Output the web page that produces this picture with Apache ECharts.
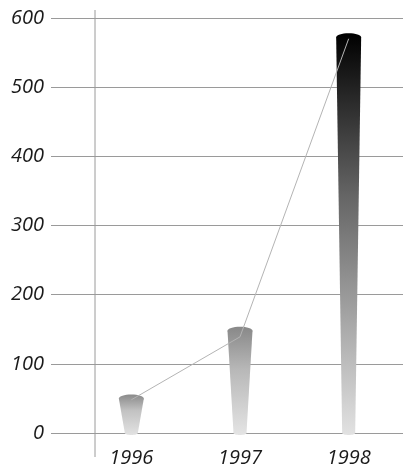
<!DOCTYPE html>
<html>
<head>
<meta charset="utf-8">
<script src="https://cdn.jsdelivr.net/npm/echarts@6/dist/echarts.min.js"></script>
<style>
  html, body { margin: 0; padding: 0; background: #fff; }
  #chart { width: 403px; height: 468px; }
</style>
</head>
<body>
<div id="chart"></div>
<script>
// Yearly totals: cone bars plus a thin trend line
const years = ['1996', '1997', '1998'];
const barValues = [50, 148, 572];
const lineValues = [48, 139, 570];
const yTicks = [0, 100, 200, 300, 400, 500, 600];

// shading of each cone, darkest at the cap, pale at the foot
const coneShades = [
  ['#8a8a8a', '#c2c2c2', '#e2e2e2'],
  ['#888888', '#b8b8b8', '#e4e4e4'],
  ['#000000', '#646464', '#e2e2e2']
];

const labelFont = {
  fontFamily: 'Open Sans',
  fontStyle: 'italic',
  fontSize: 20,
  color: '#1a1a1a'
};

const chart = echarts.init(document.getElementById('chart'), null, { renderer: 'canvas' });

function renderCone(params, api) {
  const idx = params.dataIndex;
  const top = api.coord([api.value(0), api.value(1)]);
  const base = api.coord([api.value(0), 0]);
  const cx = top[0];
  const topHalf = 12.5;
  const botHalf = 6.5;
  const capRy = 4;
  const shades = coneShades[idx];
  const fill = new echarts.graphic.LinearGradient(
    0, top[1] - capRy, 0, base[1] + 2,
    [
      { offset: 0, color: shades[0] },
      { offset: 0.4, color: shades[1] },
      { offset: 1, color: shades[2] }
    ],
    true
  );
  return {
    type: 'group',
    children: [
      {
        type: 'polygon',
        shape: {
          points: [
            [cx - topHalf, top[1]],
            [cx + topHalf, top[1]],
            [cx + botHalf, base[1]],
            [cx - botHalf, base[1]]
          ]
        },
        style: { fill: fill }
      },
      {
        type: 'ellipse',
        shape: { cx: cx, cy: base[1], rx: botHalf, ry: 2 },
        style: { fill: fill }
      },
      {
        type: 'ellipse',
        shape: { cx: cx, cy: top[1], rx: topHalf, ry: capRy },
        style: { fill: fill }
      }
    ]
  };
}

const option = {
  animation: false,
  backgroundColor: '#ffffff',
  grid: [
    { left: 51, right: 0, top: 18, height: 415 },
    { left: 77, right: -3.5, top: 18, height: 415 }
  ],
  xAxis: [
    { type: 'value', gridIndex: 0, show: false, min: 0, max: 1 },
    {
      type: 'category',
      gridIndex: 1,
      data: years,
      axisLine: { show: false },
      axisTick: { show: false },
      axisLabel: Object.assign({ margin: 15 }, labelFont),
      splitLine: { show: false }
    }
  ],
  yAxis: [
    {
      type: 'value',
      gridIndex: 0,
      min: yTicks[0],
      max: yTicks[yTicks.length - 1],
      interval: yTicks[1] - yTicks[0],
      axisLine: { show: false },
      axisTick: { show: false },
      axisLabel: Object.assign({ margin: 7 }, labelFont),
      splitLine: { lineStyle: { color: '#9a9a9a', width: 1 } }
    },
    {
      type: 'value',
      gridIndex: 1,
      min: yTicks[0],
      max: yTicks[yTicks.length - 1],
      show: false
    }
  ],
  graphic: [
    {
      type: 'line',
      shape: { x1: 95, y1: 10, x2: 95, y2: 457 },
      style: { stroke: '#9a9a9a', lineWidth: 1 },
      z: 1
    }
  ],
  series: [
    {
      type: 'custom',
      xAxisIndex: 1,
      yAxisIndex: 1,
      renderItem: renderCone,
      data: barValues.map((v, i) => [i, v]),
      z: 2
    },
    {
      type: 'line',
      xAxisIndex: 1,
      yAxisIndex: 1,
      data: lineValues,
      symbol: 'none',
      lineStyle: { color: '#b4b4b4', width: 1 },
      z: 3
    }
  ]
};

chart.setOption(option);
</script>
</body>
</html>
